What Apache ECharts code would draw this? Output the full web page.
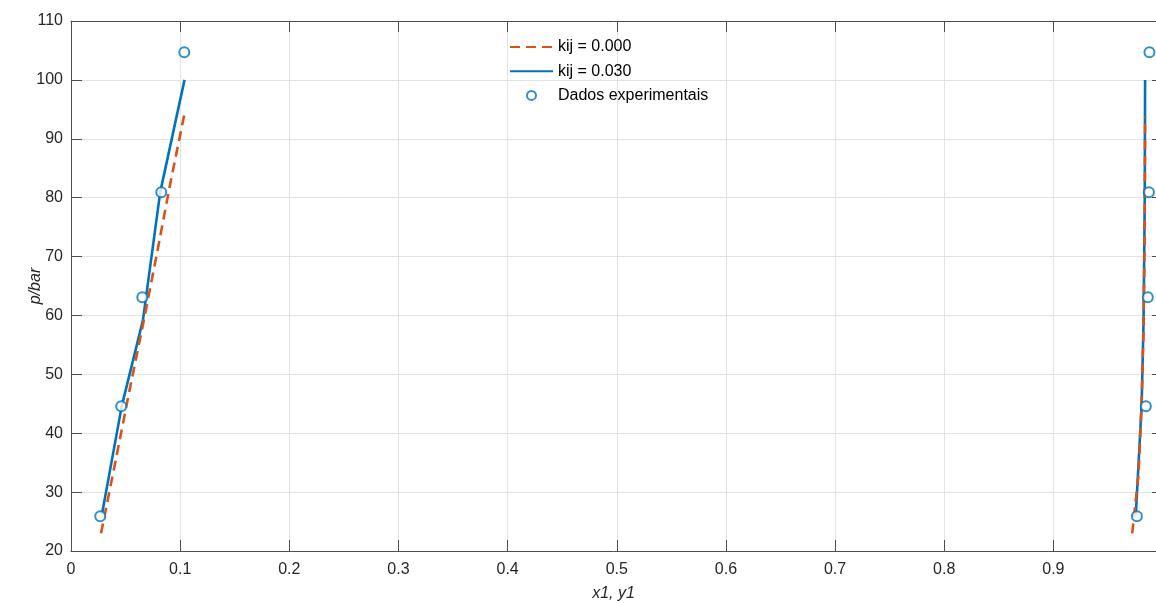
<!DOCTYPE html>
<html>
<head>
<meta charset="utf-8">
<script src="https://cdn.jsdelivr.net/npm/echarts@6/dist/echarts.min.js"></script>
<style>
html,body{margin:0;padding:0;background:#fff;}
#chart{width:1156px;height:603px;}
</style>
</head>
<body>
<div id="chart"></div>
<script>
// ---- data ----
const seriesNames = ['kij = 0.000', 'kij = 0.030', 'Dados experimentais'];
const kij000Left  = [[0.0275, 23.0], [0.0405, 35.0], [0.0533, 47.0], [0.0660, 58.5], [0.0782, 70.0], [0.0905, 82.0], [0.1040, 94.3]];
const kij000Right = [[0.9722, 23.0], [0.9780, 33.0], [0.9808, 45.0], [0.9825, 57.0], [0.9834, 70.0], [0.9838, 82.0], [0.9840, 93.8]];
const kij030Left  = [[0.0284, 26.3], [0.0465, 44.6], [0.0659, 59.2], [0.0817, 80.9], [0.1040, 100.0]];
const kij030Right = [[0.9755, 26.1], [0.9808, 44.6], [0.9826, 59.0], [0.9837, 80.0], [0.9840, 100.0]];
const expLeft  = [[0.0268, 25.9], [0.0460, 44.6], [0.0653, 63.1], [0.0827, 80.9], [0.1038, 104.7]];
const expRight = [[0.9765, 25.9], [0.9847, 44.6], [0.9865, 63.1], [0.9875, 80.9], [0.9880, 104.7]];
const xTicks = {min: 0, max: 0.994, interval: 0.1};
const yTicks = {min: 20, max: 110, interval: 10};

const blue = '#0072BD', orange = '#D95319';
const font = 'Liberation Sans, Arial, Helvetica, sans-serif';
const axisCol = '#4d4d4d', textCol = '#262626';

const chart = echarts.init(document.getElementById('chart'), null, {renderer: 'canvas'});

function baseAxis(extra) {
  return Object.assign({
    axisLine: {show: true, onZero: false, lineStyle: {color: axisCol, width: 1}},
    axisTick: {show: true, inside: true, length: 11, lineStyle: {color: axisCol}},
    splitLine: {show: false},
  }, extra);
}

const option = {
  animation: false,
  backgroundColor: '#fff',
  textStyle: {fontFamily: font},
  grid: {left: 71, right: 0, top: 21, bottom: 52, containLabel: false, outerBoundsMode: 'none'},
  legend: {
    orient: 'vertical',
    left: 504, top: 34,
    itemWidth: 43, itemHeight: 9, itemGap: 8.2,
    textStyle: {fontFamily: font, fontSize: 16, color: '#000'},
    data: [
      {name: seriesNames[0], itemStyle: {opacity: 0}},
      {name: seriesNames[1], itemStyle: {opacity: 0}},
      {name: seriesNames[2], icon: 'emptyCircle', itemStyle: {color: blue, borderColor: blue, borderWidth: 1.5}}
    ]
  },
  xAxis: [
    baseAxis({
      type: 'value', position: 'bottom', min: xTicks.min, max: xTicks.max, interval: xTicks.interval,
      name: 'x1, y1', nameLocation: 'middle', nameGap: 35, nameMoveOverlap: false,
      nameTextStyle: {fontFamily: font, fontSize: 16, fontStyle: 'italic', color: textCol},
      axisLabel: {fontFamily: font, fontSize: 16, color: textCol, margin: 11, showMaxLabel: false,
        formatter: v => (Math.abs(v) < 1e-9 ? '0' : (Math.round(v*10)/10).toString())},
      splitLine: {show: true, showMaxLine: false, lineStyle: {color: '#e3e3e3', width: 1}}
    }),
    baseAxis({
      type: 'value', position: 'top', min: xTicks.min, max: xTicks.max, interval: xTicks.interval,
      axisLabel: {show: false}
    })
  ],
  yAxis: [
    baseAxis({
      type: 'value', position: 'left', min: yTicks.min, max: yTicks.max, interval: yTicks.interval,
      name: 'p/bar', nameLocation: 'middle', nameGap: 27, nameMoveOverlap: false,
      nameTextStyle: {fontFamily: font, fontSize: 16, fontStyle: 'italic', color: textCol},
      axisLabel: {fontFamily: font, fontSize: 16, color: textCol, margin: 8},
      splitLine: {show: true, lineStyle: {color: '#e3e3e3', width: 1}}
    }),
    baseAxis({
      type: 'value', position: 'right', offset: 7, min: yTicks.min, max: yTicks.max, interval: yTicks.interval,
      axisLabel: {show: false}
    })
  ],
  series: [
    {name: seriesNames[0], type: 'line', data: kij000Left, symbol: 'none', z: 4,
     lineStyle: {color: orange, width: 2.6, type: [10, 6]}, itemStyle: {color: orange}},
    {name: seriesNames[0], type: 'line', data: kij000Right, symbol: 'none', z: 4,
     lineStyle: {color: orange, width: 2.6, type: [10, 6]}, itemStyle: {color: orange}},
    {name: seriesNames[1], type: 'line', data: kij030Left, symbol: 'none', z: 3,
     lineStyle: {color: blue, width: 2.6}, itemStyle: {color: blue}},
    {name: seriesNames[1], type: 'line', data: kij030Right, symbol: 'none', z: 3,
     lineStyle: {color: blue, width: 2.6}, itemStyle: {color: blue}},
    {name: seriesNames[2], type: 'scatter', data: expLeft, symbol: 'emptyCircle', symbolSize: 10, z: 5,
     itemStyle: {color: blue, borderColor: blue, borderWidth: 1.5}},
    {name: seriesNames[2], type: 'scatter', data: expRight, symbol: 'emptyCircle', symbolSize: 10, z: 5,
     itemStyle: {color: blue, borderColor: blue, borderWidth: 1.5}}
  ]
};
chart.setOption(option);
</script>
</body>
</html>
